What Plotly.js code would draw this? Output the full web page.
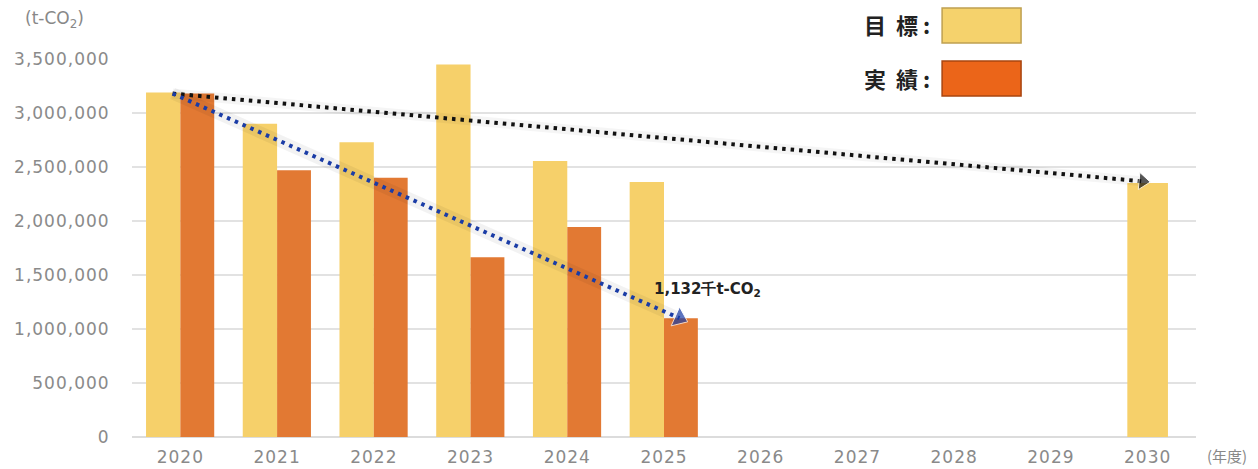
<!DOCTYPE html>
<html><head><meta charset="utf-8">
<script src="https://cdn.plot.ly/plotly-3.0.1.min.js"></script>
<style>html,body{margin:0;padding:0;background:#fff}#c{width:1258px;height:469px}
.xtick text,.ytick text{letter-spacing:1px}</style>
</head><body><div id="c"></div>
<script>
const years = ['2020','2021','2022','2023','2024','2025','2026','2027','2028','2029','2030'];
const target = [3190000, 2900000, 2730000, 3450000, 2555000, 2360000, null, null, null, null, 2352000];
const actual = [3180000, 2470000, 2400000, 1665000, 1945000, 1100000, null, null, null, null, null];
const yTicks = [0, 500000, 1000000, 1500000, 2000000, 2500000, 3000000, 3500000];
const annoText = '1,132千t-CO<sub>2</sub>';
const legendNames = ['目&nbsp;&nbsp;標&nbsp;:', '実&nbsp;&nbsp;績&nbsp;:'];

const idx = years.map((_, i) => i);
const cTarget = '#F6D06A', cActual = '#E27933';
const numFont = '"DejaVu Sans", sans-serif';

const start = {x: -0.08, y: actual[0]};
const blueEnd = {x: 5 + 0.16, y: actual[5]};
const blackEnd = {x: 9.95, y: target[10] + 15000};

const paired = idx.map(i => actual[i] != null);
const traces = [
  {type:'bar', x: idx, y: target, name:'目標', marker:{color:cTarget},
   offset: paired.map(p => p ? -0.355 : -0.21), width: paired.map(p => p ? 0.355 : 0.42), hoverinfo:'skip'},
  {type:'bar', x: idx, y: actual, name:'実績', marker:{color:cActual},
   offset: 0, width: 0.35, hoverinfo:'skip'},
  {type:'scatter', mode:'lines', x:[start.x, blueEnd.x], y:[start.y, blueEnd.y], line:{color:'rgba(0,0,0,0.05)', width:12}, hoverinfo:'skip'},
  {type:'scatter', mode:'lines', x:[start.x, blackEnd.x], y:[start.y, blackEnd.y], line:{color:'rgba(0,0,0,0.04)', width:10}, hoverinfo:'skip'},
  {type:'scatter', mode:'lines+markers', x:[start.x, blackEnd.x], y:[start.y, blackEnd.y],
   line:{color:'#111', width:4, dash:'3.5px,5px'},
   marker:{symbol:'triangle-up', size:[0,15], color:'#111', angleref:'previous'}, hoverinfo:'skip'},
  {type:'scatter', mode:'lines+markers', x:[start.x, blueEnd.x], y:[start.y, blueEnd.y],
   line:{color:'#1A3CA6', width:4, dash:'3.5px,5px'},
   marker:{symbol:'triangle-up', size:[0,18], color:'#1A3CA6', angleref:'previous'}, hoverinfo:'skip'}
];

const px = p => (p - 131.6) / 1064.4;
const py = p => (437 - p) / 378;

const layout = {
  width:1258, height:469,
  margin:{l:131.6, r:62, t:59, b:32},
  paper_bgcolor:'#fff', plot_bgcolor:'#fff',
  showlegend:false,
  barmode:'overlay',
  font:{family:numFont, color:'#888'},
  xaxis:{range:[-0.5,10.5], tickmode:'array', tickvals:idx, ticktext:years,
         showgrid:false, zeroline:false, showline:false, ticks:'outside', ticklen:5, tickcolor:'rgba(0,0,0,0)',
         tickfont:{size:17, color:'#8a8a8a', family:numFont}, fixedrange:true},
  yaxis:{range:[0,3500000], tickmode:'array', tickvals:yTicks,
         ticktext: yTicks.map(v => v.toLocaleString('en-US')),
         showgrid:true, gridcolor:'#e2e2e2', gridwidth:2, zeroline:true, zerolinecolor:'#dcdcdc', zerolinewidth:2,
         ticks:'outside', ticklen:18, tickcolor:'rgba(0,0,0,0)', tickfont:{size:17, color:'#8a8a8a', family:numFont}, fixedrange:true},
  shapes:[
    {type:'rect', xref:'paper', yref:'paper', x0:px(942), x1:px(1021), y0:py(43), y1:py(8),
     fillcolor:'#F5D26C', line:{color:'#BFA050', width:1.5}},
    {type:'rect', xref:'paper', yref:'paper', x0:px(942), x1:px(1021), y0:py(96), y1:py(61),
     fillcolor:'#EB6519', line:{color:'#A9450F', width:1.5}}
  ],
  annotations:[
    {xref:'paper', yref:'paper', x:px(932), y:py(24), xanchor:'right', yanchor:'middle', showarrow:false,
     text:'<b>'+legendNames[0]+'</b>', font:{size:22, color:'#222', family:'"Noto Sans CJK JP", sans-serif'}},
    {xref:'paper', yref:'paper', x:px(932), y:py(78), xanchor:'right', yanchor:'middle', showarrow:false,
     text:'<b>'+legendNames[1]+'</b>', font:{size:22, color:'#222', family:'"Noto Sans CJK JP", sans-serif'}},
    {xref:'paper', yref:'paper', x:px(54), y:py(20), xanchor:'center', yanchor:'middle', showarrow:false,
     text:'(t-CO<sub>2</sub>)', font:{size:17, color:'#888', family:numFont}},
    {xref:'paper', yref:'paper', x:px(1227), y:py(455), xanchor:'center', yanchor:'middle', showarrow:false,
     text:'(年度)', font:{size:15, color:'#888', family:'"Noto Sans CJK JP", sans-serif'}},
    {xref:'x', yref:'y', x:5.45, y:1370000, xanchor:'center', yanchor:'middle', showarrow:false,
     text:'<b>'+annoText+'</b>', font:{size:15, color:'#222', family:numFont}}
  ]
};
Plotly.newPlot('c', traces, layout, {staticPlot:true, displayModeBar:false});
</script></body></html>
